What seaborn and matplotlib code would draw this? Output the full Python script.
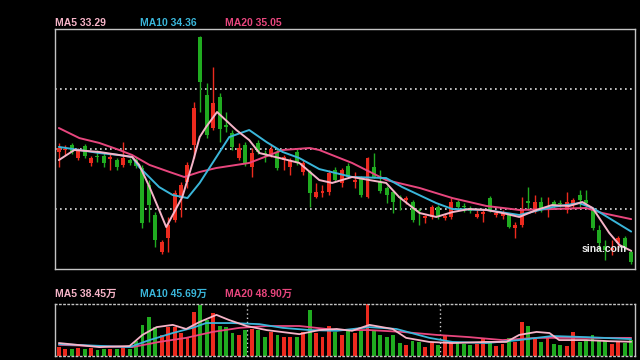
import numpy as np
import pandas as pd
import seaborn as sns
import matplotlib
matplotlib.use("Agg")
import matplotlib.pyplot as plt

# daily K-line, 90 sessions (prices)
opens = [38.78, 38.89, 39.17, 38.44, 39.11, 38.17, 38.56, 38.56, 38.39, 38.33,
         38.06, 38.33, 38.33, 37.89, 36.94, 35.28, 33.22, 34.00, 35.00, 36.22,
         37.11, 39.17, 45.17, 41.94, 40.11, 41.83, 40.28, 39.83, 38.44, 39.17,
         37.94, 39.28, 38.72, 38.61, 38.78, 38.33, 37.94, 38.78, 37.67, 37.67,
         36.28, 36.50, 36.55, 37.78, 37.06, 38.00, 37.11, 37.33, 36.28, 37.94,
         37.11, 36.78, 36.55, 36.28, 36.11, 36.00, 35.56, 35.11, 35.17, 35.72,
         35.11, 35.17, 36.00, 35.78, 35.67, 35.17, 35.33, 36.22, 35.28, 35.22,
         35.28, 34.56, 34.72, 36.05, 35.44, 36.00, 35.56, 36.00, 35.94, 35.56,
         35.83, 36.39, 36.11, 35.56, 34.44, 33.55, 33.33, 33.72, 34.00, 33.22]
closes = [39.00, 38.94, 38.78, 38.89, 38.56, 38.44, 38.50, 38.17, 38.50, 37.94,
          38.44, 38.17, 38.00, 34.83, 35.83, 33.89, 33.78, 34.72, 36.50, 36.94,
          38.06, 41.22, 42.67, 39.72, 41.50, 40.05, 40.17, 39.06, 39.00, 38.17,
          38.72, 38.78, 38.67, 38.94, 37.89, 38.50, 38.33, 38.22, 38.17, 36.50,
          36.55, 36.61, 37.61, 37.22, 37.78, 37.39, 37.22, 36.39, 38.44, 37.39,
          36.61, 36.39, 36.00, 36.22, 36.22, 35.00, 35.50, 35.22, 35.72, 35.17,
          35.22, 36.00, 35.72, 35.72, 35.50, 35.33, 35.44, 35.56, 35.39, 35.39,
          34.61, 34.72, 35.61, 35.94, 36.00, 35.56, 35.72, 35.83, 35.89, 36.00,
          36.11, 36.11, 35.94, 34.56, 33.72, 33.33, 33.44, 34.00, 33.44, 32.67]
highs = [39.28, 39.17, 39.28, 39.00, 39.22, 38.56, 38.89, 38.72, 38.72, 38.44,
         39.33, 38.44, 38.50, 38.06, 37.22, 35.44, 33.89, 35.17, 36.67, 37.11,
         38.22, 41.55, 45.22, 42.61, 43.50, 42.05, 41.00, 40.00, 39.28, 39.33,
         39.00, 39.44, 38.89, 39.17, 39.00, 38.61, 38.44, 38.94, 38.33, 37.78,
         37.06, 36.94, 37.78, 37.94, 37.89, 38.17, 37.67, 37.44, 38.50, 38.72,
         37.78, 36.89, 36.67, 36.39, 36.33, 36.11, 35.67, 35.28, 35.83, 35.83,
         35.33, 36.22, 36.11, 35.94, 35.78, 35.56, 35.61, 36.33, 35.50, 35.56,
         35.39, 34.89, 36.28, 36.83, 36.39, 36.28, 36.28, 36.11, 36.11, 36.55,
         36.22, 36.67, 36.67, 35.67, 34.72, 33.89, 33.89, 34.11, 34.11, 33.33]
lows = [37.94, 38.61, 38.67, 38.33, 38.44, 38.00, 38.22, 37.94, 37.78, 37.78,
        37.94, 38.06, 37.89, 34.56, 34.89, 33.50, 33.11, 33.22, 34.89, 35.17,
        36.78, 38.44, 41.00, 39.55, 40.00, 39.33, 39.89, 38.89, 38.33, 38.00,
        37.39, 38.67, 38.22, 38.50, 37.78, 37.78, 37.50, 38.06, 37.50, 35.72,
        36.22, 36.28, 36.39, 37.11, 36.83, 37.33, 36.78, 36.28, 36.22, 37.33,
        36.50, 35.94, 35.39, 35.56, 35.89, 34.89, 34.72, 34.83, 35.05, 35.05,
        35.00, 35.05, 35.61, 35.44, 35.39, 35.11, 34.89, 35.44, 35.17, 35.05,
        34.56, 34.00, 34.61, 35.56, 35.39, 35.44, 35.17, 35.67, 35.72, 35.39,
        35.67, 35.67, 35.72, 34.44, 33.33, 32.78, 33.05, 33.33, 33.33, 32.55]

# volume in 万 shares
volumes = [24, 19, 19, 22, 19, 22, 16, 19, 19, 19,
           22, 19, 40, 84, 105, 78, 57, 78, 78, 62,
           51, 119, 138, 97, 116, 81, 78, 62, 57, 70,
           73, 70, 51, 65, 57, 51, 51, 51, 65, 124,
           62, 51, 81, 65, 57, 73, 62, 70, 140, 70,
           57, 51, 57, 35, 30, 40, 38, 24, 35, 30,
           57, 38, 35, 32, 30, 32, 49, 35, 27, 32,
           49, 38, 92, 81, 46, 38, 49, 32, 30, 27,
           65, 38, 40, 57, 43, 40, 32, 38, 34, 42]

# moving average lines, read at a few sessions
ma5_x = [0, 2.4, 6.3, 11.4, 12.5, 14.1, 15.6, 16.7, 19.2, 20.8, 21.9, 22.9, 24.6, 27.6,
         29.6, 31.2, 37.4, 40.5, 42.5, 45.6, 48.3, 50.9, 52.9, 56.1, 58.7, 61.2, 63.8,
         66.5, 69, 71.6, 74.3, 76.7, 79.4, 81.4, 83, 85.6, 87.2, 89]
ma5_y = [38.33, 38.89, 38.78, 38.50, 38.06, 36.83, 35.56, 34.61, 36.28, 38.17, 39.61, 40.17,
         41.00, 40.00, 39.44, 38.72, 38.17, 37.22, 37.06, 37.39, 37.22, 37.06, 36.28, 35.39,
         35.17, 35.44, 35.61, 35.56, 35.39, 35.17, 35.56, 35.83, 35.78, 36.00, 35.67, 34.28,
         33.61, 33.29]
ma10_x = [0, 3.2, 6.3, 9.4, 11.4, 12.5, 15.6, 17.7, 20, 21.9, 24.5, 26.5, 29.6, 32.3, 34.8,
          37.4, 40.5, 45.6, 50.9, 53.4, 58.7, 61.2, 66.5, 71.6, 76.7, 80.9, 83, 89]
ma10_y = [39.06, 38.89, 38.72, 38.61, 38.50, 37.94, 36.83, 36.39, 36.22, 37.06, 38.50, 39.61,
          40.00, 39.33, 38.78, 38.44, 37.83, 37.39, 37.33, 36.83, 35.94, 35.61, 35.56, 35.28,
          35.72, 35.94, 35.67, 34.36]
ma20_x = [0, 3.2, 6.3, 9.4, 11.4, 14.1, 17.2, 19.5, 21.9, 24.5, 29.6, 34.8, 39, 40.5, 45.6,
          50.9, 56.1, 61.2, 66.5, 71.6, 76.7, 82, 84.5, 89]
ma20_y = [40.11, 39.55, 39.28, 38.89, 38.61, 38.06, 37.67, 37.39, 37.67, 37.89, 38.17, 38.89,
          39.00, 38.89, 38.17, 37.22, 36.78, 36.22, 35.78, 35.56, 35.61, 35.67, 35.39, 35.05]

vma5_x = [0, 6.3, 11, 13, 15.2, 17.7, 19.8, 21.9, 24.5, 26.5, 29.2, 32.3, 37.4, 40.5, 43.2,
          45.6, 48.3, 51.9, 54, 57.6, 61.2, 66.5, 69.6, 71.6, 74.3, 76.3, 77.8, 82, 85.6, 89]
vma5_y = [35, 24, 27, 57, 78, 84, 73, 92, 111, 97, 81, 70, 59, 70, 73, 68, 84, 73, 49, 38,
          35, 38, 38, 57, 65, 62, 43, 43, 40, 38.45]
vma10_x = [0, 11, 14.1, 17.7, 20.8, 22.9, 26.9, 31.2, 34.8, 39, 43.2, 48.3, 52.5, 57.6, 61.2,
           66.5, 71.6, 76.7, 82, 89]
vma10_y = [32, 24, 43, 62, 76, 89, 89, 86, 76, 70, 68, 78, 73, 49, 38, 35, 43, 54, 51, 45.69]
vma20_x = [0, 11.4, 15.6, 19.8, 23.9, 28.1, 32.3, 37.4, 43.2, 48.3, 53.4, 58.7, 63.8, 69,
           74.3, 79.4, 89]
vma20_y = [30, 24, 38, 49, 65, 76, 81, 81, 70, 70, 65, 57, 51, 43, 49, 49, 48.9]

ma_labels = ["MA5 33.29", "MA10 34.36", "MA20 35.05"]
vol_labels = ["MA5 38.45万", "MA10 45.69万", "MA20 48.90万"]

RED = "#ec2a1e"
GREEN = "#20ab20"
C5, C10, C20 = "#f6b4c8", "#3ab6da", "#e8467e"
FRAME = "#c4c4c4"

df = pd.DataFrame({"open": opens, "high": highs, "low": lows, "close": closes, "vol": volumes})
df["x"] = np.arange(len(df))
df["up"] = df["close"] >= df["open"]
df["color"] = np.where(df["up"], RED, GREEN)

sns.set_style("dark", {"axes.facecolor": "black", "figure.facecolor": "black"})
plt.rcParams["font.family"] = ["Liberation Sans", "Noto Sans CJK SC", "DejaVu Sans"]

fig = plt.figure(figsize=(6.4, 3.6), dpi=100)
fig.patch.set_facecolor("black")
ax = fig.add_axes([55 / 640, 1 - 269 / 360, 580 / 640, 240 / 360])
axv = fig.add_axes([55 / 640, 1 - 356 / 360, 580 / 640, 52 / 360])

xlim = (-0.6, 89.6)
ylo, yhi = 32.28, 45.61

# price panel
ax.set_facecolor("black")
for k in (1, 2, 3):
    ax.axhline(ylo + (yhi - ylo) * k / 4, color="#e0e0e0", lw=1.2, ls=(0, (1, 2)), zorder=1)
ax.vlines(df["x"], df["low"], df["high"], colors=df["color"], lw=1, zorder=2)
body_lo = np.minimum(df["open"], df["close"])
body_h = np.maximum(np.abs(df["close"] - df["open"]), 0.04)
ax.bar(df["x"], body_h, bottom=body_lo, width=0.62, color=df["color"], lw=0, zorder=3)

sns.lineplot(x=ma20_x, y=ma20_y, ax=ax, color=C20, lw=1.4, zorder=4)
sns.lineplot(x=ma10_x, y=ma10_y, ax=ax, color=C10, lw=1.4, zorder=5)
sns.lineplot(x=ma5_x, y=ma5_y, ax=ax, color=C5, lw=1.4, zorder=6)

ax.set_xlim(*xlim)
ax.set_ylim(ylo, yhi)
ax.set_xticks([])
ax.set_yticks([])
ax.set_xlabel("")
ax.set_ylabel("")
for s in ax.spines.values():
    s.set_visible(True)
    s.set_color(FRAME)
    s.set_linewidth(1)

# volume panel
axv.set_facecolor("black")
axv.bar(df["x"], df["vol"], width=0.6, color=df["color"], lw=0, zorder=2)
for xv in (29.3, 59.3):
    axv.axvline(xv, color="#d0d0d0", lw=1, ls=(0, (1, 2)), zorder=1)
sns.lineplot(x=vma20_x, y=vma20_y, ax=axv, color=C20, lw=1.3, zorder=3)
sns.lineplot(x=vma10_x, y=vma10_y, ax=axv, color=C10, lw=1.3, zorder=4)
sns.lineplot(x=vma5_x, y=vma5_y, ax=axv, color=C5, lw=1.3, zorder=5)
axv.set_xlim(*xlim)
axv.set_ylim(0, 140.4)
axv.set_xticks([])
axv.set_yticks([])
axv.set_xlabel("")
axv.set_ylabel("")
for name, s in axv.spines.items():
    s.set_visible(True)
    s.set_color(FRAME)
    s.set_linewidth(1)
    if name in ("top", "bottom"):
        s.set_linestyle((0, (1, 2)))

# legends as text
for lab, col, px in zip(ma_labels, [C5, C10, C20], [55, 140, 225]):
    fig.text(px / 640, 1 - 28 / 360, lab, color=col, fontsize=7.5, fontweight="bold",
             va="bottom", ha="left")
for lab, col, px in zip(vol_labels, [C5, C10, C20], [55, 140, 225]):
    fig.text(px / 640, 1 - 299 / 360, lab, color=col, fontsize=7.5, fontweight="bold",
             va="bottom", ha="left")

fig.text(582 / 640, 1 - 254 / 360, "sina.com", color="#ececec", fontsize=7.5,
         fontweight="bold", va="bottom", ha="left", zorder=10)

fig.savefig("out.png", dpi=100, facecolor="black")
